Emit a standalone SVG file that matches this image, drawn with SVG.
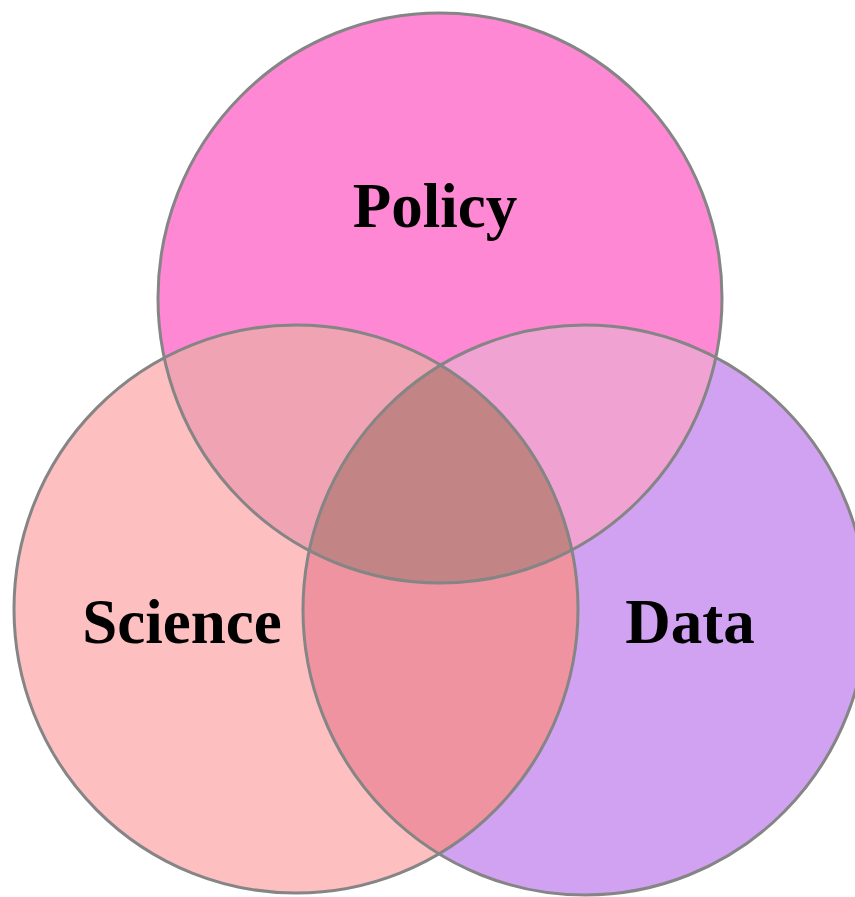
<svg xmlns="http://www.w3.org/2000/svg" width="855" height="897" viewBox="0 0 855 897">
<style>
.lbl{font-family:"Liberation Serif","Times New Roman",serif;font-weight:bold;font-size:63px;fill:#000;text-anchor:middle}
.edge{fill:none;stroke:#858585;stroke-width:3}
</style>
<defs>
<ellipse id="cP" cx="440" cy="298" rx="282" ry="285"/>
<ellipse id="cS" cx="296" cy="609" rx="282" ry="284"/>
<ellipse id="cD" cx="585" cy="610" rx="282" ry="285"/>
<clipPath id="clipP"><use href="#cP"/></clipPath>
<clipPath id="clipS"><use href="#cS"/></clipPath>
<clipPath id="clipD"><use href="#cD"/></clipPath>
</defs>
<rect width="855" height="897" fill="#fff"/>
<g id="fills">
<use href="#cP" fill="#ff88d4"/>
<use href="#cS" fill="#fdbfc0"/>
<use href="#cD" fill="#d2a2f2"/>
<use href="#cS" fill="#f0a3b3" clip-path="url(#clipP)"/>
<use href="#cD" fill="#f0a3d3" clip-path="url(#clipP)"/>
<use href="#cD" fill="#f093a0" clip-path="url(#clipS)"/>
<g clip-path="url(#clipP)"><use href="#cD" fill="#c28484" clip-path="url(#clipS)"/></g>
</g>
<g id="policy">
<use href="#cP" class="edge"/>
<text class="lbl" x="435" y="227">Policy</text>
</g>
<g id="science">
<use href="#cS" class="edge"/>
<text class="lbl" x="182" y="643">Science</text>
</g>
<g id="data">
<use href="#cD" class="edge"/>
<text class="lbl" x="690" y="643">Data</text>
</g>
<g id="connectors"></g>
</svg>
